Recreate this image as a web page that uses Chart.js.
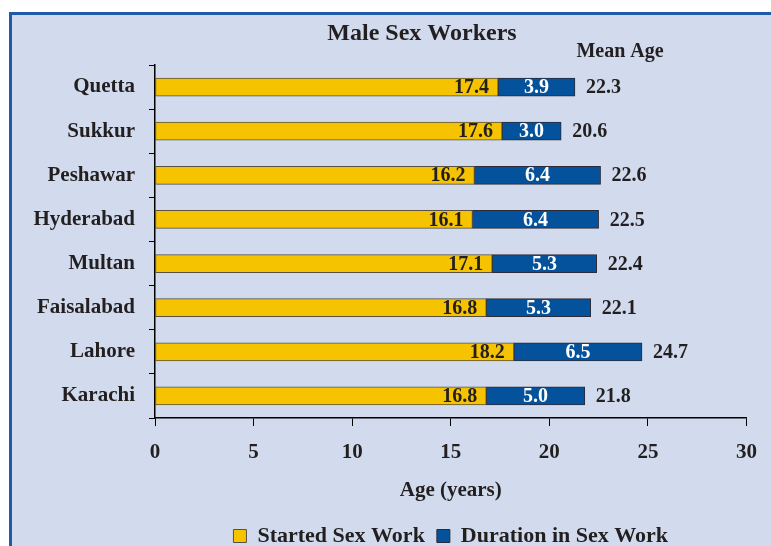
<!DOCTYPE html>
<html>
<head>
<meta charset="utf-8">
<script src="https://cdn.jsdelivr.net/npm/chart.js@4.4.0/dist/chart.umd.min.js"></script>
<style>
  html, body { margin: 0; padding: 0; background: #fff; overflow: hidden; }
  #panel {
    position: absolute; left: 9px; top: 12px; width: 800px; height: 600px;
    background: #d1dbed; border-top: 3px solid #1f5ba6; border-left: 3px solid #1f5ba6;
  }
  #wrap { position: absolute; left: 0; top: 0; width: 771px; height: 546px; }
</style>
</head>
<body>
<div id="panel"></div>
<div id="wrap"><canvas id="chart" width="771" height="546"></canvas></div>
<script>
const cities = ['Quetta', 'Sukkur', 'Peshawar', 'Hyderabad', 'Multan', 'Faisalabad', 'Lahore', 'Karachi'];
const startedAge = [17.4, 17.6, 16.2, 16.1, 17.1, 16.8, 18.2, 16.8];
const durationYears = [3.9, 3.0, 6.4, 6.4, 5.3, 5.3, 6.5, 5.0];
const meanAge = [22.3, 20.6, 22.6, 22.5, 22.4, 22.1, 24.7, 21.8];
const xTicks = [0, 5, 10, 15, 20, 25, 30];

const SERIF = "'Liberation Serif', 'Times New Roman', serif";
const INK = '#231f20';

// подписи на столбцах, заголовок и "Mean Age"
const labelPlugin = {
    id: 'barLabels',
    afterDatasetsDraw(chart) {
        const ctx = chart.ctx;
        const yellow = chart.getDatasetMeta(0);
        const blue = chart.getDatasetMeta(1);
        ctx.save();
        ctx.textBaseline = 'middle';
        ctx.font = 'bold 20px ' + SERIF;
        yellow.data.forEach((bar, i) => {
            ctx.fillStyle = INK;
            ctx.textAlign = 'right';
            ctx.fillText(startedAge[i].toFixed(1), bar.x - 9, bar.y + 1);

            const b = blue.data[i];
            ctx.fillStyle = '#ffffff';
            ctx.textAlign = 'center';
            ctx.fillText(durationYears[i].toFixed(1), (b.base + b.x) / 2, b.y + 1);

            ctx.fillStyle = INK;
            ctx.textAlign = 'left';
            ctx.fillText(meanAge[i].toFixed(1), b.x + 11, b.y + 1);
        });

        ctx.textAlign = 'center';
        ctx.font = 'bold 24px ' + SERIF;
        ctx.fillText('Male Sex Workers', 422, 34);
        ctx.font = 'bold 20px ' + SERIF;
        ctx.fillText('Mean Age', 620, 52);
        ctx.restore();
    }
};

new Chart(document.getElementById('chart'), {
    type: 'bar',
    data: {
        labels: cities,
        datasets: [{
            label: 'Started Sex Work',
            data: startedAge,
            backgroundColor: '#f6c300',
            borderColor: '#5a5040',
            borderWidth: 1,
            borderSkipped: false,
            barThickness: 18
        }, {
            label: 'Duration in Sex Work',
            data: durationYears,
            backgroundColor: '#04529b',
            borderColor: '#2b2b3a',
            borderWidth: 1,
            borderSkipped: false,
            barThickness: 18
        }]
    },
    options: {
        indexAxis: 'y',
        responsive: false,
        animation: false,
        layout: { padding: { top: 65, right: 24, left: 0, bottom: -11 } },
        scales: {
            x: {
                stacked: true,
                min: 0,
                max: 30,
                afterBuildTicks: (scale) => { scale.ticks = xTicks.map(v => ({ value: v })); },
                afterFit: (scale) => { scale.height = 95; },
                grid: { drawOnChartArea: false, color: '#000', tickLength: 8, tickColor: '#000' },
                border: { color: '#000', width: 1.5 },
                ticks: { color: INK, font: { family: SERIF, size: 21, weight: 'bold' }, padding: 14 },
                title: {
                    display: true, text: 'Age (years)', color: INK,
                    font: { family: SERIF, size: 21, weight: 'bold' }, padding: { top: 16, bottom: 10 }
                }
            },
            y: {
                stacked: true,
                afterFit: (scale) => { scale.width = 155; },
                grid: { drawOnChartArea: false, offset: true, color: '#000', tickLength: 6, tickColor: '#000' },
                border: { color: '#000', width: 1.5 },
                ticks: { color: INK, font: { family: SERIF, size: 21, weight: 'bold' }, padding: 14 }
            }
        },
        plugins: {
            legend: {
                position: 'bottom',
                fullSize: false,
                labels: {
                    color: INK,
                    font: { family: SERIF, size: 22, weight: 'bold' },
                    boxWidth: 13,
                    boxHeight: 13,
                    padding: 12
                }
            },
            tooltip: { enabled: false }
        }
    },
    plugins: [labelPlugin]
});
</script>
</body>
</html>
